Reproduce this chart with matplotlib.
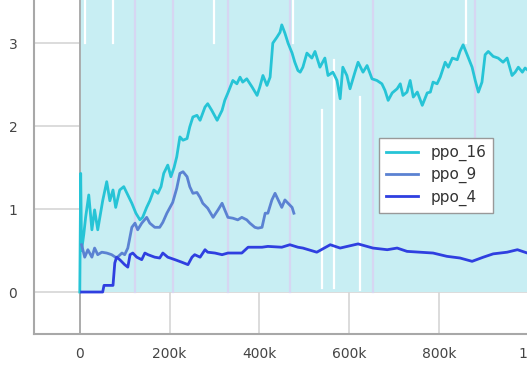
import matplotlib
matplotlib.use("Agg")
import matplotlib.pyplot as plt
from matplotlib.ticker import FuncFormatter

# ---- data (steps in thousands) ----
ppo16_steps = [0, 2, 4, 9, 13, 20, 27, 33, 40, 51, 60, 67, 74, 80, 89, 98, 107, 116, 125, 134,
               140, 149, 156, 165, 174, 181, 187, 196, 203, 210, 216, 223, 230, 239, 245, 252,
               261, 268, 279, 285, 294, 306, 317, 323, 330, 341, 350, 357, 363, 372, 384, 395,
               401, 408, 417, 424, 430, 439, 446, 450, 457, 464, 473, 479, 486, 491, 497, 506,
               517, 524, 535, 546, 553, 564, 573, 580, 586, 595, 602, 613, 620, 631, 640, 651,
               662, 673, 680, 687, 696, 707, 714, 720, 729, 736, 743, 752, 763, 774, 781, 787,
               796, 803, 814, 821, 830, 841, 847, 854, 863, 874, 881, 888, 896, 903, 910, 921,
               932, 943, 952, 963, 970, 977, 986, 992, 999]
ppo16_vals = [0.0, 1.43, 0.5, 0.7, 0.9, 1.17, 0.75, 0.99, 0.75, 1.1, 1.33, 1.1, 1.23, 1.02, 1.23,
              1.27, 1.17, 1.07, 0.95, 0.87, 0.9, 1.02, 1.1, 1.23, 1.19, 1.27, 1.43, 1.53, 1.39,
              1.5, 1.63, 1.87, 1.83, 1.85, 1.99, 2.11, 2.13, 2.07, 2.23, 2.27, 2.19, 2.07, 2.19,
              2.31, 2.4, 2.55, 2.51, 2.59, 2.53, 2.57, 2.47, 2.37, 2.47, 2.61, 2.49, 2.59, 3.0,
              3.07, 3.13, 3.22, 3.12, 3.0, 2.88, 2.77, 2.67, 2.65, 2.71, 2.88, 2.82, 2.9, 2.71,
              2.82, 2.61, 2.65, 2.55, 2.33, 2.71, 2.61, 2.45, 2.65, 2.77, 2.65, 2.73, 2.57, 2.55,
              2.51, 2.43, 2.31, 2.4, 2.45, 2.51, 2.37, 2.41, 2.55, 2.35, 2.41, 2.25, 2.4, 2.41,
              2.53, 2.51, 2.59, 2.77, 2.71, 2.82, 2.8, 2.9, 2.98, 2.86, 2.71, 2.55, 2.41, 2.53,
              2.86, 2.9, 2.84, 2.82, 2.77, 2.82, 2.61, 2.65, 2.71, 2.65, 2.7, 2.67]

ppo9_steps = [4, 11, 18, 27, 33, 40, 49, 60, 71, 82, 94, 100, 107, 116, 123, 129, 138, 149,
              156, 167, 178, 185, 194, 201, 207, 216, 223, 230, 239, 245, 252, 261, 268, 274,
              285, 297, 308, 317, 323, 330, 341, 352, 361, 372, 379, 390, 397, 406, 413, 419,
              428, 435, 442, 450, 457, 464, 473, 477]
ppo9_vals = [0.57, 0.42, 0.51, 0.42, 0.53, 0.45, 0.48, 0.47, 0.45, 0.41, 0.47, 0.45, 0.53, 0.78,
             0.83, 0.75, 0.83, 0.9, 0.83, 0.78, 0.78, 0.84, 0.95, 1.02, 1.08, 1.25, 1.43, 1.45,
             1.39, 1.27, 1.19, 1.2, 1.14, 1.07, 1.01, 0.9, 0.99, 1.07, 0.99, 0.9, 0.89, 0.87,
             0.9, 0.87, 0.83, 0.78, 0.77, 0.78, 0.95, 0.95, 1.11, 1.19, 1.11, 1.02, 1.11, 1.07,
             1.02, 0.95]

ppo4_steps = [4, 45, 51, 54, 74, 78, 82, 89, 100, 107, 112, 118, 127, 138, 145, 152, 167, 178,
              185, 196, 212, 227, 241, 250, 256, 268, 279, 285, 301, 317, 330, 361, 375, 406,
              419, 450, 468, 486, 497, 528, 558, 580, 620, 653, 685, 707, 729, 758, 787, 818,
              847, 874, 899, 921, 952, 975, 997]
ppo4_vals = [0.0, 0.0, 0.0, 0.08, 0.08, 0.35, 0.42, 0.39, 0.33, 0.3, 0.45, 0.47, 0.42, 0.39,
             0.47, 0.45, 0.42, 0.41, 0.47, 0.42, 0.39, 0.36, 0.33, 0.42, 0.45, 0.42, 0.51, 0.48,
             0.47, 0.45, 0.47, 0.47, 0.54, 0.54, 0.55, 0.54, 0.57, 0.54, 0.53, 0.48, 0.57, 0.53,
             0.58, 0.53, 0.51, 0.53, 0.49, 0.48, 0.47, 0.43, 0.41, 0.37, 0.42, 0.46, 0.48, 0.51,
             0.47]

band_start, band_end = 0, 1000
# gaps (white) and overlaps (lavender) in the raw-value envelope: (step k, low, high)
white_gaps = [(11, 3.0, 3.6), (74, 3.0, 3.6), (299, 3.0, 3.6), (475, 3.0, 3.6),
              (861, 3.0, 3.6), (624, 0.02, 2.35), (566, 0.05, 2.8), (540, 0.05, 2.2)]
lavender = [(123, 0.0, 3.6), (207, 0.0, 3.6), (468, 0.0, 3.6), (653, 0.0, 3.6),
            (881, 1.0, 3.6), (330, 0.0, 3.6)]

series = [("ppo_16", ppo16_steps, ppo16_vals, "#26c4d6"),
          ("ppo_9", ppo9_steps, ppo9_vals, "#5b82d2"),
          ("ppo_4", ppo4_steps, ppo4_vals, "#2f3fe0")]

xticks = [0, 200, 400, 600, 800, 1000]
yticks = [0, 1, 2, 3]

fig = plt.figure(figsize=(5.27, 3.67), dpi=100)
ax = fig.add_axes([34 / 527, 33 / 367, 496 / 527, 334 / 367])
K = 1000

ax.set_xlim(-102 * K, 1003 * K)
ax.set_ylim(-0.506, 3.52)

for y in yticks:
    ax.axhline(y, color="#d6d6d6", lw=1.2, zorder=0)
for x in xticks:
    ax.axvline(x * K, color="#d6d6d6", lw=1.2, zorder=0)

ax.fill_between([band_start * K, band_end * K + 20 * K], 0, 3.6, color="#c8eef3", lw=0, zorder=1)
for s, lo, hi in lavender:
    ax.plot([s * K, s * K], [lo, hi], color="#d6d6f2", lw=1.6, zorder=1.5)
for s, lo, hi in white_gaps:
    ax.plot([s * K, s * K], [lo, hi], color="white", lw=1.6, zorder=1.6)

ax.axvline(0, color="#a8a8a8", lw=1.3, zorder=1.8)

for name, xs, ys, c in series:
    ax.plot([v * K for v in xs], ys, color=c, lw=2.0, label=name, zorder=3,
            solid_joinstyle="round")

for side in ["top", "right"]:
    ax.spines[side].set_visible(False)
for side in ["left", "bottom"]:
    ax.spines[side].set_color("#a8a8a8")
    ax.spines[side].set_linewidth(1.5)

ax.set_xticks([x * K for x in xticks])
ax.xaxis.set_major_formatter(FuncFormatter(
    lambda v, p: "0" if v == 0 else ("1M" if v >= 1e6 else f"{int(v / K)}k")))
ax.set_yticks(yticks)
ax.tick_params(axis="both", length=0, labelsize=10, labelcolor="#444444")
ax.tick_params(axis="y", pad=12)
ax.tick_params(axis="x", pad=9)

leg = ax.legend(loc="upper left", bbox_to_anchor=(345 / 496, 1 - 138 / 334), frameon=True,
                fancybox=False, framealpha=1, edgecolor="#999999", fontsize=11,
                handlelength=2.1, borderpad=0.45, labelspacing=0.4, handletextpad=0.8,
                borderaxespad=0)
leg.get_frame().set_linewidth(1.0)
for t in leg.get_texts():
    t.set_color("#333333")
leg.set_zorder(5)

fig.savefig("out.png", dpi=100)
